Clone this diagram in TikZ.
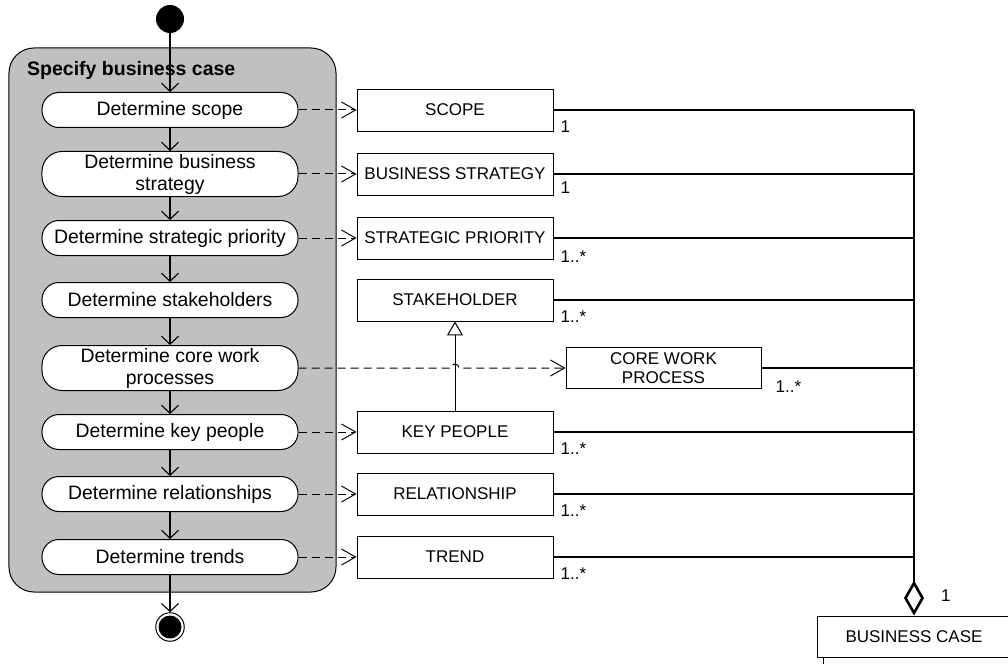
\documentclass[tikz,border=0pt]{standalone}
\usepackage{fontspec}
\setmainfont{Liberation Sans}
\usetikzlibrary{arrows.meta}
\definecolor{regionfill}{RGB}{192,192,192}
\begin{document}
\begin{tikzpicture}[x=1bp,y=-1bp,
  action/.style={draw, line width=1bp, fill=white, rounded corners=17bp,
    minimum width=256bp, minimum height=35bp, inner sep=0pt, align=center,
    font=\fontsize{19.4bp}{22bp}\selectfont},
  twoline/.style={minimum height=45bp, rounded corners=20bp},
  entity/.style={draw, line width=0.9bp, fill=white, minimum width=196bp,
    minimum height=42bp, inner sep=0pt, align=center,
    font=\fontsize{17bp}{19bp}\selectfont},
  mult/.style={font=\fontsize{17bp}{19bp}\selectfont, inner sep=0pt, anchor=west},
  flow/.style={line width=1.1bp, -{Straight Barb[length=8bp,width=17bp]}},
  dep/.style={line width=1bp, dash pattern=on 8bp off 5bp,
    -{Straight Barb[length=14bp,width=16bp]}},
  assoc/.style={line width=1.8bp},
  bus/.style={line width=2.6bp},
]
\useasboundingbox (0,0) rectangle (1008,664);

% activity region
\node[draw, line width=1bp, fill=regionfill, rounded corners=25bp,
  minimum width=327bp, minimum height=544bp, inner sep=0pt] (region) at (172.5,320) {};
\node[anchor=west, inner sep=0pt, font=\bfseries\fontsize{19.5bp}{22bp}\selectfont]
  (title) at (27,70) {Specify business case};

% initial and final nodes
\node[circle, fill=black, minimum size=28bp, inner sep=0pt] (start) at (170,19) {};
\node[circle, draw, line width=1bp, fill=white, minimum size=28.5bp, inner sep=0pt] (final) at (170,627) {};
\fill (final.center) circle[radius=11.5bp];

% actions
\node[action] (a1) at (170,110) {Determine scope};
\node[action, twoline] (a2) at (170,174) {Determine business\\strategy};
\node[action] (a3) at (170,238) {Determine strategic priority};
\node[action] (a4) at (170,300) {Determine stakeholders};
\node[action, twoline] (a5) at (170,368) {Determine core work\\processes};
\node[action] (a6) at (170,432) {Determine key people};
\node[action] (a7) at (170,494) {Determine relationships};
\node[action] (a8) at (170,557) {Determine trends};

% control flow
\draw[flow] (start) -- (a1);
\draw[flow] (a1) -- (a2);
\draw[flow] (a2) -- (a3);
\draw[flow] (a3) -- (a4);
\draw[flow] (a4) -- (a5);
\draw[flow] (a5) -- (a6);
\draw[flow] (a6) -- (a7);
\draw[flow] (a7) -- (a8);
\draw[flow] (a8) -- (final);

% classes
\node[entity] (sc) at (455,110) {SCOPE};
\node[entity] (bs) at (455,174) {BUSINESS STRATEGY};
\node[entity] (sp) at (455,238) {STRATEGIC PRIORITY};
\node[entity] (sh) at (455,300) {STAKEHOLDER};
\node[entity, minimum width=195bp, minimum height=41bp] (cw) at (663.5,368) {CORE WORK\\PROCESS};
\node[entity] (kp) at (455,432) {KEY PEOPLE};
\node[entity] (rl) at (455,494) {RELATIONSHIP};
\node[entity] (tr) at (455,557) {TREND};
\node[entity, minimum width=194bp, minimum height=41bp] (bc) at (914,636.5) {BUSINESS CASE};

% object flows
\draw[dep] (a1.east) -- (a1.east -| sc.west);
\draw[dep] (a2.east) -- (a2.east -| bs.west);
\draw[dep] (a3.east) -- (a3.east -| sp.west);
\draw[dep] (a6.east) -- (a6.east -| kp.west);
\draw[dep] (a7.east) -- (a7.east -| rl.west);
\draw[dep] (a8.east) -- (a8.east -| tr.west);

% generalization
\draw[line width=1bp, -{Triangle[open, length=14bp, width=16bp]}] (kp) -- (sh);

% core work process flow hops over the generalization
\draw[dep] (a5.east) -- ([xshift=-4bp]a5.east -| kp.north)
  arc[start angle=180, end angle=0, radius=4bp] -- (a5.east -| cw.west);

% aggregation bus
\coordinate (busx) at (914,110);
\draw[assoc] (sc.east) -- (sc.east -| busx);
\draw[assoc] (bs.east) -- (bs.east -| busx);
\draw[assoc] (sp.east) -- (sp.east -| busx);
\draw[assoc] (sh.east) -- (sh.east -| busx);
\draw[assoc] (cw.east) -- (cw.east -| busx);
\draw[assoc] (kp.east) -- (kp.east -| busx);
\draw[assoc] (rl.east) -- (rl.east -| busx);
\draw[assoc] (tr.east) -- (tr.east -| busx);
\draw[bus, -{Diamond[open, length=35bp, width=20bp]}] (busx) -- (bc.north);

% outgoing line of the business case
\coordinate (bcout) at (823,672);
\draw[line width=1bp] (bc.south -| bcout) -- (bcout);

% multiplicities
\node[mult] at ([xshift=7bp,yshift=-17bp]sc.east) {1};
\node[mult] at ([xshift=7bp,yshift=-14bp]bs.east) {1};
\node[mult] at ([xshift=7bp,yshift=-19bp]sp.east) {1..*};
\node[mult] at ([xshift=7bp,yshift=-17bp]sh.east) {1..*};
\node[mult] at ([xshift=14bp,yshift=-19bp]cw.east) {1..*};
\node[mult] at ([xshift=7bp,yshift=-17bp]kp.east) {1..*};
\node[mult] at ([xshift=7bp,yshift=-17bp]rl.east) {1..*};
\node[mult] at ([xshift=7bp,yshift=-17bp]tr.east) {1..*};
\node[mult] at (941,596) {1};
\end{tikzpicture}
\end{document}
